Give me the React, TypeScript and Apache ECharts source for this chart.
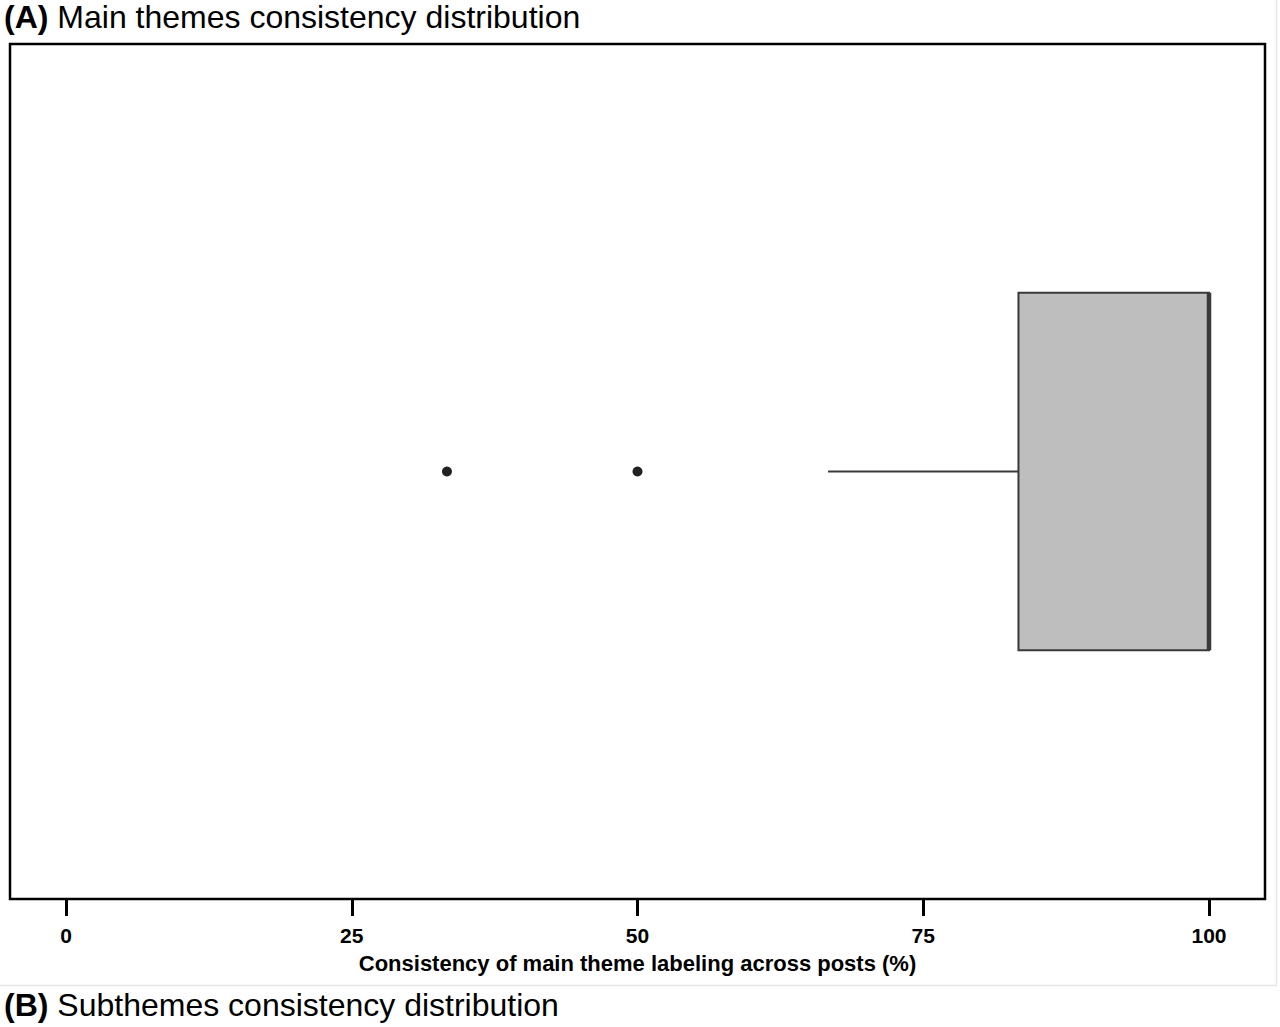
import { useEffect, useRef } from 'react';
import * as echarts from 'echarts';

// one box: [category, low whisker, Q1, median, Q3, high whisker]
const categories = ['Main themes'];
const boxStats = [[0, 66.67, 83.33, 100, 100, 100]];
const outliers = [
  [33.33, 0],
  [50, 0],
];
const xTicks = [0, 25, 50, 75, 100];

const FONT = '"Liberation Sans", Arial, Helvetica, sans-serif';
const INK = '#3a3a3a';

export default function App() {
  const ref = useRef<HTMLDivElement>(null);

  useEffect(() => {
    if (!ref.current) return;
    const chart = echarts.init(ref.current, undefined, { renderer: 'svg' });

    chart.setOption({
      animation: false,
      backgroundColor: '#fff',
      grid: { left: 66, right: 71, top: 44, bottom: 128 },
      xAxis: {
        type: 'value',
        min: xTicks[0],
        max: xTicks[xTicks.length - 1],
        interval: 25,
        name: 'Consistency of main theme labeling across posts (%)',
        nameLocation: 'middle',
        nameGap: 53,
        nameTextStyle: { color: '#000', fontFamily: FONT, fontWeight: 'bold', fontSize: 22 },
        axisLine: { show: false },
        axisTick: { show: true, length: 17, lineStyle: { color: '#000', width: 3 } },
        axisLabel: { color: '#000', fontFamily: FONT, fontWeight: 'bold', fontSize: 21, margin: 26 },
        splitLine: { show: false },
      },
      yAxis: {
        type: 'category',
        data: categories,
        show: false,
      },
      graphic: [
        {
          type: 'polyline',
          silent: true,
          shape: { points: [[1276.5, 0], [1276.5, 985.5], [0, 985.5]] },
          style: { fill: 'none', stroke: '#e6e6e6', lineWidth: 1.5 },
        },
        {
          type: 'rect',
          silent: true,
          shape: { x: 10, y: 44, width: 1255, height: 855 },
          style: { fill: 'none', stroke: '#000', lineWidth: 2.5 },
        },
        {
          type: 'text',
          left: 4,
          top: 1,
          style: {
            text: '{b|(A)} Main themes consistency distribution',
            font: `32px ${FONT}`,
            fill: '#000',
            rich: { b: { fontWeight: 'bold', fontSize: 32, fontFamily: FONT, fill: '#000' } },
          },
        },
        {
          type: 'text',
          left: 4,
          top: 989,
          style: {
            text: '{b|(B)} Subthemes consistency distribution',
            font: `32px ${FONT}`,
            fill: '#000',
            rich: { b: { fontWeight: 'bold', fontSize: 32, fontFamily: FONT, fill: '#000' } },
          },
        },
      ],
      series: [
        {
          type: 'custom',
          data: boxStats,
          encode: { y: 0, x: [1, 2, 3, 4, 5] },
          renderItem: (_params: any, api: any) => {
            const cat = api.value(0);
            const low = api.coord([api.value(1), cat]);
            const q1 = api.coord([api.value(2), cat]);
            const med = api.coord([api.value(3), cat]);
            const q3 = api.coord([api.value(4), cat]);
            const high = api.coord([api.value(5), cat]);
            const band = api.size([0, 1])[1];
            const h = band * 0.418;
            const top = low[1] - h / 2;
            return {
              type: 'group',
              children: [
                {
                  type: 'line',
                  shape: { x1: low[0], y1: low[1], x2: q1[0], y2: q1[1] },
                  style: { stroke: INK, lineWidth: 2 },
                },
                {
                  type: 'line',
                  shape: { x1: q3[0], y1: q3[1], x2: high[0], y2: high[1] },
                  style: { stroke: INK, lineWidth: 2 },
                },
                {
                  type: 'rect',
                  shape: { x: q1[0], y: top, width: q3[0] - q1[0], height: h },
                  style: { fill: '#bebebe', stroke: INK, lineWidth: 2 },
                },
                {
                  type: 'line',
                  shape: { x1: med[0], y1: top, x2: med[0], y2: top + h },
                  style: { stroke: INK, lineWidth: 4.5 },
                },
              ],
            };
          },
        },
        {
          type: 'scatter',
          data: outliers,
          symbol: 'circle',
          symbolSize: 10,
          itemStyle: { color: '#222', opacity: 1 },
        },
      ],
    });

    return () => chart.dispose();
  }, []);

  return (
    <div
      ref={ref}
      style={{ position: 'fixed', left: 0, top: 0, width: 1280, height: 1027 }}
    />
  );
}
